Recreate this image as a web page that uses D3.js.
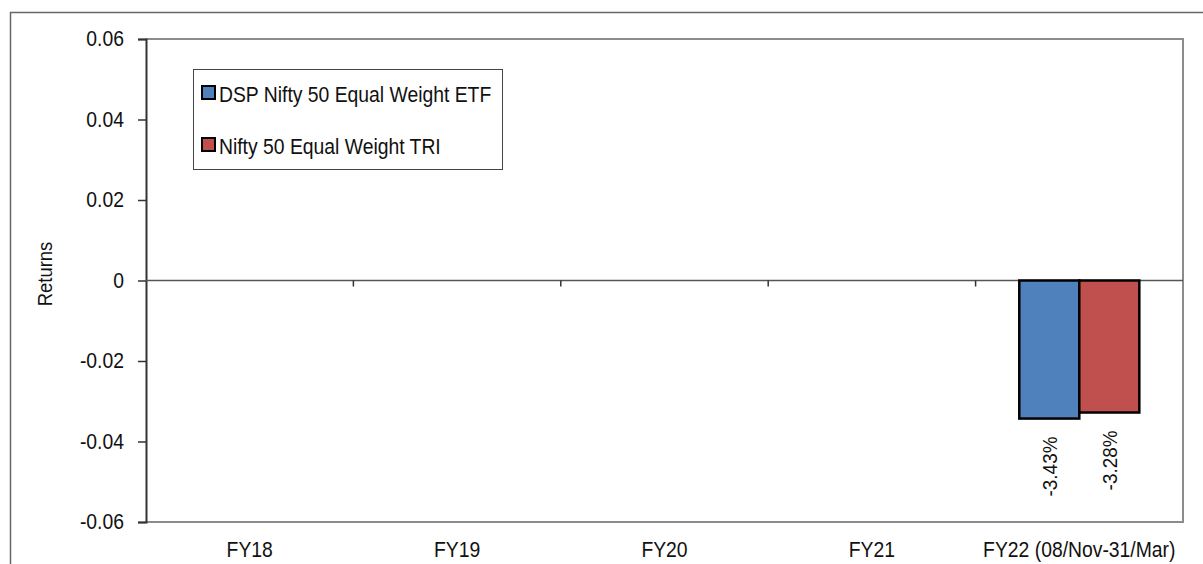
<!DOCTYPE html>
<html>
<head>
<meta charset="utf-8">
<script src="https://cdn.jsdelivr.net/npm/d3@7"></script>
<style>
  body { margin: 0; background: #fff; }
  text { font-family: "Liberation Sans", Arial, sans-serif; fill: #111; }
</style>
</head>
<body>
<div id="chart"></div>
<script>
// chart values
const categories = ["FY18", "FY19", "FY20", "FY21", "FY22 (08/Nov-31/Mar)"];
const seriesNames = ["DSP Nifty 50 Equal Weight ETF", "Nifty 50 Equal Weight TRI"];
const etfReturns = [null, null, null, null, -0.0343];
const triReturns = [null, null, null, null, -0.0328];
const yTicks = [-0.06, -0.04, -0.02, 0, 0.02, 0.04, 0.06];
const colors = ["#4F81BD", "#C0504D"];

const W = 1203, H = 564;
const margin = { top: 39, right: 20, bottom: 42, left: 146 };
const width = 1183 - margin.left;
const height = 522 - margin.top;

// the source text is a bit taller than it is wide, squeeze it horizontally
const SX = 0.9;
const FS = "21.5px";
function condense(sel) {
    sel.each(function () {
        const t = d3.select(this);
        const x0 = +(t.attr("x") || 0);
        t.attr("x", x0 / SX);
        const tr = t.attr("transform") || "";
        t.attr("transform", (tr + ` scale(${SX},1)`).trim());
    });
}

const svg = d3.select("#chart").append("svg")
    .attr("width", W)
    .attr("height", H);

// outer frame (runs off the right and bottom)
svg.append("path")
    .attr("d", `M10.5,${H + 2}V12.5H${W + 2}`)
    .attr("fill", "none")
    .attr("stroke", "#666")
    .attr("stroke-width", 1.5);

const g = svg.append("g")
    .attr("transform", `translate(${margin.left},${margin.top})`);

const x = d3.scaleBand().domain(categories).range([0, width]).padding(0);
const xSub = d3.scaleBand().domain(seriesNames).range([0, x.bandwidth()])
    .paddingInner(0).paddingOuter(0.728);
const y = d3.scaleLinear().domain([-0.06, 0.06]).range([height, 0]);

// plot frame: top, right, bottom in grey
g.append("path")
    .attr("d", `M0,0H${width}V${height}H0`)
    .attr("fill", "none")
    .attr("stroke", "#8c8c8c")
    .attr("stroke-width", 2);

// y axis
const yAxis = g.append("g")
    .call(d3.axisLeft(y).tickValues(yTicks).tickSize(8).tickPadding(14)
        .tickFormat(d => d === 0 ? "0" : d.toFixed(2)));
yAxis.select(".domain").attr("stroke", "#333").attr("stroke-width", 2);
yAxis.selectAll(".tick line").attr("stroke", "#333").attr("stroke-width", 1.5);
yAxis.selectAll(".tick text")
    .style("font-family", "'Liberation Sans', Arial, sans-serif")
    .style("font-size", FS)
    .attr("fill", "#111")
    .call(condense);

// y axis title
svg.append("text")
    .attr("transform", `translate(45,274) rotate(-90)`)
    .attr("text-anchor", "middle")
    .attr("dominant-baseline", "central")
    .style("font-size", "20.5px")
    .text("Returns")
    .call(condense);

// zero line with category ticks
g.append("line")
    .attr("x1", 0).attr("x2", width)
    .attr("y1", y(0)).attr("y2", y(0))
    .attr("stroke", "#555").attr("stroke-width", 1.5);

g.selectAll(".cat-tick")
    .data(categories.slice(1))
    .enter().append("line")
    .attr("class", "cat-tick")
    .attr("x1", d => x(d)).attr("x2", d => x(d))
    .attr("y1", y(0)).attr("y2", y(0) + 6)
    .attr("stroke", "#333").attr("stroke-width", 1.5);

// category labels
g.selectAll(".cat-label")
    .data(categories)
    .enter().append("text")
    .attr("class", "cat-label")
    .attr("x", d => x(d) + x.bandwidth() / 2)
    .attr("y", height + 35)
    .attr("text-anchor", "middle")
    .style("font-size", FS)
    .text(d => d)
    .call(condense);

// bars
const allSeries = [etfReturns, triReturns];
const barData = [];
categories.forEach((c, i) => {
    allSeries.forEach((s, j) => {
        if (s[i] != null) barData.push({ cat: c, series: seriesNames[j], value: s[i], color: colors[j] });
    });
});

g.selectAll(".bar")
    .data(barData)
    .enter().append("rect")
    .attr("class", "bar")
    .attr("x", d => x(d.cat) + xSub(d.series))
    .attr("y", d => y(Math.max(0, d.value)))
    .attr("width", xSub.bandwidth())
    .attr("height", d => Math.abs(y(d.value) - y(0)))
    .attr("fill", d => d.color)
    .attr("stroke", "#000")
    .attr("stroke-width", 2.5);

// value labels, rotated
g.selectAll(".val-label")
    .data(barData)
    .enter().append("text")
    .attr("class", "val-label")
    .attr("transform", d => {
        const cx = x(d.cat) + xSub(d.series) + xSub.bandwidth() / 2;
        return `translate(${cx},${y(d.value) + 18}) rotate(-90)`;
    })
    .attr("text-anchor", "end")
    .attr("dominant-baseline", "central")
    .style("font-size", "21px")
    .text(d => (d.value * 100).toFixed(2) + "%")
    .call(condense);

// legend
const legend = svg.append("g").attr("transform", "translate(193,69)");
legend.append("rect")
    .attr("x", 0.5).attr("y", 0.5)
    .attr("width", 309).attr("height", 100)
    .attr("fill", "#fff")
    .attr("stroke", "#444").attr("stroke-width", 1);

const items = legend.selectAll(".item")
    .data(seriesNames)
    .enter().append("g")
    .attr("class", "item")
    .attr("transform", (d, i) => `translate(8,${24 + i * 52})`);

items.append("rect")
    .attr("x", 1).attr("y", -7)
    .attr("width", 13).attr("height", 13)
    .attr("fill", (d, i) => colors[i])
    .attr("stroke", "#000").attr("stroke-width", 2);

items.append("text")
    .attr("x", 18)
    .attr("y", 1)
    .attr("dominant-baseline", "central")
    .style("font-size", "21.5px")
    .text(d => d)
    .call(condense);
</script>
</body>
</html>
